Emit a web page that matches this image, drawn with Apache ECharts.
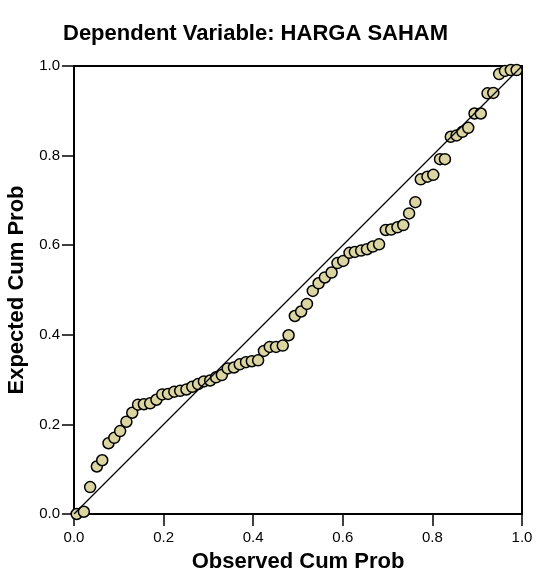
<!DOCTYPE html>
<html>
<head>
<meta charset="utf-8">
<script src="https://cdn.jsdelivr.net/npm/echarts@6/dist/echarts.min.js"></script>
<style>
html,body{margin:0;padding:0;background:#fff;}
#chart{width:538px;height:577px;}
</style>
</head>
<body>
<div id="chart"></div>
<script>
var titleText = 'Dependent Variable: HARGA SAHAM';
var xName = 'Observed Cum Prob';
var yName = 'Expected Cum Prob';
var tickValues = [0.0, 0.2, 0.4, 0.6, 0.8, 1.0];

var observed = [0.006,0.022,0.036,0.051,0.063,0.077,0.090,0.103,0.117,0.130,
  0.143,0.156,0.170,0.184,0.197,0.210,0.224,0.237,0.251,0.264,
  0.277,0.290,0.304,0.317,0.330,0.343,0.357,0.370,0.384,0.397,
  0.411,0.424,0.437,0.451,0.466,0.479,0.493,0.507,0.520,0.533,
  0.546,0.560,0.575,0.588,0.601,0.615,0.627,0.641,0.654,0.667,
  0.681,0.696,0.708,0.722,0.735,0.748,0.762,0.774,0.789,0.802,
  0.817,0.828,0.841,0.854,0.867,0.880,0.894,0.908,0.923,0.936,
  0.949,0.962,0.975,0.988];
var expected = [0.000,0.005,0.060,0.106,0.120,0.158,0.170,0.185,0.206,0.226,
  0.244,0.245,0.247,0.255,0.267,0.268,0.273,0.275,0.278,0.284,
  0.290,0.296,0.298,0.305,0.310,0.325,0.327,0.334,0.339,0.341,
  0.343,0.364,0.373,0.373,0.376,0.399,0.442,0.452,0.469,0.498,
  0.515,0.528,0.539,0.560,0.565,0.583,0.585,0.588,0.591,0.597,
  0.602,0.634,0.635,0.640,0.645,0.671,0.696,0.747,0.753,0.757,
  0.792,0.792,0.842,0.845,0.853,0.862,0.894,0.894,0.939,0.940,
  0.982,0.989,0.991,0.991];
var refLine = [[0, 0], [1, 1]];

var points = observed.map(function (x, i) { return [x, expected[i]]; });

var chart = echarts.init(document.getElementById('chart'), null, {renderer: 'canvas'});
var font = 'Arial, "Liberation Sans", sans-serif';
function axisCommon(name, isY) {
  return {
    type: 'value', min: 0, max: 1, interval: 0.2,
    name: name, nameLocation: 'middle',
    nameGap: isY ? 45 : 37,
    nameTextStyle: {fontFamily: font, fontWeight: 'bold', fontSize: 22, color: '#000'},
    axisLine: {show: true, onZero: false, lineStyle: {color: '#000', width: 2}},
    axisTick: {show: true, inside: false, length: 12, lineStyle: {color: '#000', width: 1.5}},
    axisLabel: {
      color: '#000', fontFamily: font, fontSize: 15, margin: isY ? 14 : 16,
      formatter: function (v) { return v.toFixed(1); }
    },
    splitLine: {show: false}
  };
}
chart.setOption({
  animation: false,
  backgroundColor: '#fff',
  title: {
    text: titleText, left: 58, top: 18,
    textStyle: {fontFamily: font, fontWeight: 'bold', fontSize: 22, color: '#000'}
  },
  grid: {left: 74, right: 16, top: 66, bottom: 63, show: true, borderColor: '#000', borderWidth: 2,
    backgroundColor: 'transparent', containLabel: false, outerBoundsMode: 'none'},
  xAxis: axisCommon(xName, false),
  yAxis: axisCommon(yName, true),
  series: [
    {
      type: 'scatter', data: points, symbol: 'circle', symbolSize: 11,
      itemStyle: {color: '#DBD5A2', borderColor: '#000', borderWidth: 1.5, opacity: 1},
      z: 2
    },
    {
      type: 'line', data: refLine, showSymbol: false, symbol: 'none',
      lineStyle: {color: '#000', width: 1.3}, z: 3, silent: true
    }
  ]
});
</script>
</body>
</html>
